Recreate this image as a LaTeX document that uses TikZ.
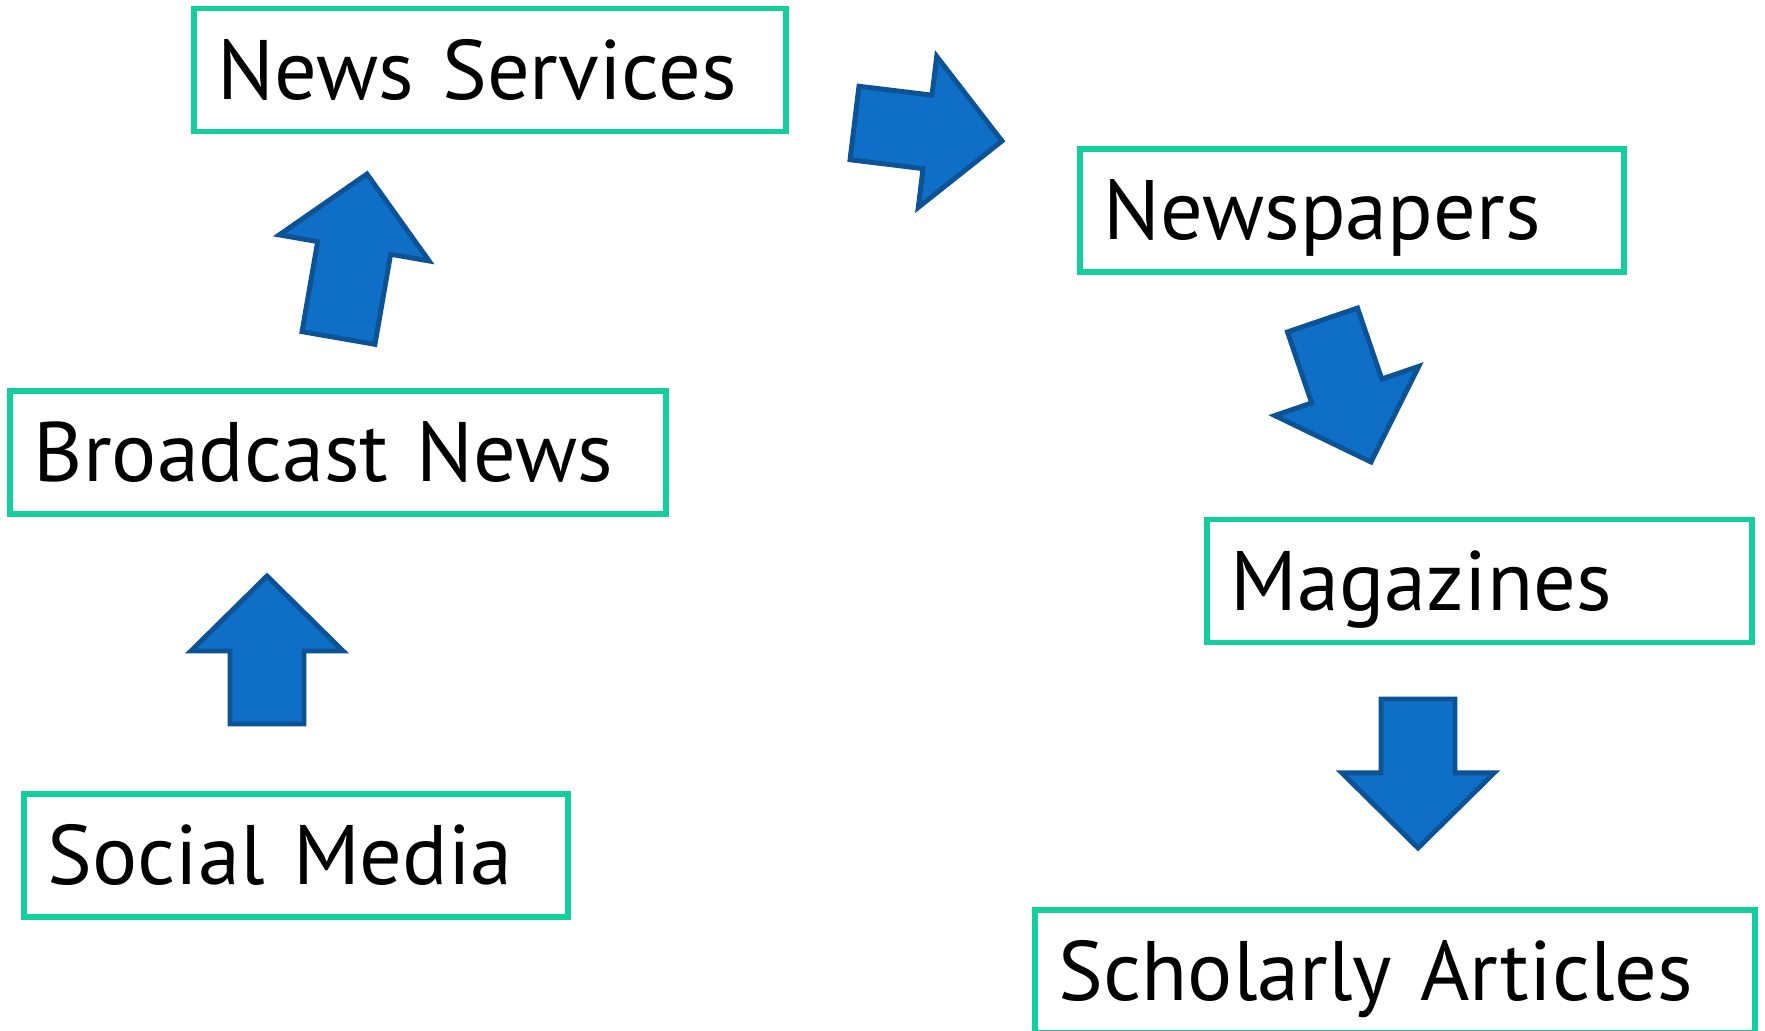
\documentclass[tikz,border=0pt]{standalone}
\usepackage{fontspec}
\setmainfont{PT Sans}
\usetikzlibrary{calc}
\definecolor{boxgreen}{RGB}{20,206,158}
\definecolor{arrowblue}{RGB}{15,111,198}
\definecolor{arrowedge}{RGB}{11,83,148}
\newcommand{\blockarrow}[2]{%
  \path ($(#2)!0.75cm!(#1)$) coordinate (hb);
  \draw[blockarr] ($(#1)!0.37cm!90:(#2)$) -- ($(hb)!0.37cm!90:(#2)$)
    -- ($(hb)!0.76cm!90:(#2)$) -- (#2) -- ($(hb)!0.76cm!-90:(#2)$)
    -- ($(hb)!0.37cm!-90:(#2)$) -- ($(#1)!0.37cm!-90:(#2)$) -- cycle;}

\begin{document}
\begin{tikzpicture}[x=0.01cm,y=-0.01cm,
    source/.style={draw=boxgreen,line width=1.6pt,inner xsep=0.24cm,inner ysep=0pt,
      minimum height=1.23cm,text height=0.8cm,text depth=0.22cm,align=left,
      font=\fontsize{24}{29}\selectfont},
    blockarr/.style={fill=arrowblue,draw=arrowedge,line width=1.4pt,line join=miter}]
  \useasboundingbox (0,0) rectangle (1765,1031);
  \node[source,text width=5.44cm] (news_serv) at (490,70) {News Services};
  \node[source,text width=4.96cm] (newspapers) at (1352,210.5) {Newspapers};
  \node[source,text width=6.08cm] (broadcast) at (338,452.5) {Broadcast News};
  \node[source,text width=4.97cm] (magazines) at (1479.5,581) {Magazines};
  \node[source,text width=4.96cm] (social) at (296,855.5) {Social Media};
  \node[source,text width=6.72cm] (scholarly) at (1395,971.5) {Scholarly Articles};
  % arrow ends
  \coordinate (from_1) at (267,724);      \coordinate (to_1) at (267,576);
  \coordinate (from_2) at (338.5,338);    \coordinate (to_2) at (367,174);
  \coordinate (from_3) at (854.5,123);    \coordinate (to_3) at (1002,141);
  \coordinate (from_4) at (1322.5,320);   \coordinate (to_4) at (1371,462);
  \coordinate (from_5) at (1418,699);     \coordinate (to_5) at (1418,848);
  \blockarrow{from_1}{to_1}
  \blockarrow{from_2}{to_2}
  \blockarrow{from_3}{to_3}
  \blockarrow{from_4}{to_4}
  \blockarrow{from_5}{to_5}
\end{tikzpicture}
\end{document}
